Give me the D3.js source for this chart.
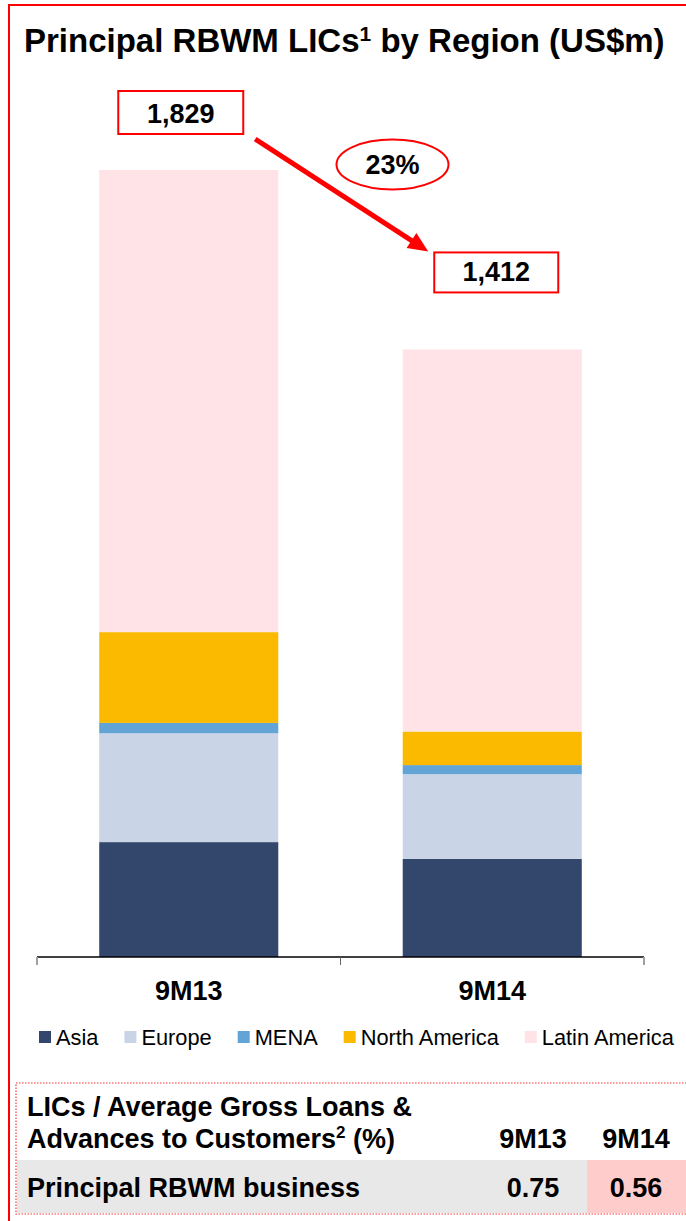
<!DOCTYPE html>
<html>
<head>
<meta charset="utf-8">
<script src="https://cdn.jsdelivr.net/npm/d3@7"></script>
<style>
  body { margin: 0; background: #fff; }
  svg { display: block; font-family: "Liberation Sans", Arial, sans-serif; }
</style>
</head>
<body>
<svg id="chart" width="686" height="1221"></svg>
<script>
// data (US$m)
const categories = ['9M13', '9M14'];
const regions = ['Asia', 'Europe', 'MENA', 'North America', 'Latin America'];
const asia = [267, 228];
const europe = [253, 197];
const mena = [24, 21];
const northAmerica = [211, 78];
const latinAmerica = [1074, 888];
const changeLabel = '23%';

// ratio table below the chart
const tableHeader = ['LICs / Average Gross Loans &', 'Advances to Customers'];
const tableRowLabel = 'Principal RBWM business';
const tableValues = [0.75, 0.56];

const colors = ['#33476C', '#C9D4E6', '#62A4D6', '#FBBA00', '#FFE3E6'];
const red = '#FF0000';
const fs = 27; // bold label size used all over the slide

const svg = d3.select('#chart');
const margin = { left: 37, right: 42, top: 170, bottom: 264 };
const width = 686 - margin.left - margin.right;
const baseY = 1221 - margin.bottom;

const series = [asia, europe, mena, northAmerica, latinAmerica];
const rows = categories.map((c, i) => {
  const r = { cat: c };
  regions.forEach((reg, k) => (r[reg] = series[k][i]));
  return r;
});
const totals = rows.map((r) => d3.sum(regions, (k) => r[k]));

const xScale = d3.scaleBand().domain(categories).range([margin.left, margin.left + width]).paddingInner(0.41).paddingOuter(0.205);
const yScale = d3.scaleLinear().domain([0, d3.max(totals)]).range([baseY, margin.top]);
const colorScale = d3.scaleOrdinal().domain(regions).range(colors);

// outer red frame (runs off the right/bottom edges)
svg.append('rect')
  .attr('x', 9).attr('y', 5).attr('width', 700).attr('height', 1300)
  .attr('fill', 'none').attr('stroke', red).attr('stroke-width', 2);

// title
const title = svg.append('text')
  .attr('x', 24).attr('y', 52)
  .attr('font-size', 33).attr('font-weight', 'bold').attr('fill', '#000');
title.append('tspan').text('Principal RBWM LICs');
title.append('tspan').attr('font-size', 21).attr('dy', -11).text('1');
title.append('tspan').attr('dy', 11).text(' by Region (US$m)');

// stacked bars
const stacked = d3.stack().keys(regions)(rows);
svg.append('g')
  .selectAll('g')
  .data(stacked)
  .join('g')
  .attr('fill', (d) => colorScale(d.key))
  .selectAll('rect')
  .data((d) => d)
  .join('rect')
  .attr('x', (d) => xScale(d.data.cat))
  .attr('y', (d) => yScale(d[1]))
  .attr('width', xScale.bandwidth())
  .attr('height', (d) => yScale(d[0]) - yScale(d[1]));

// category axis
const xAxis = d3.axisBottom(xScale).tickSize(0);
const xAxisG = svg.append('g').attr('transform', `translate(0,${baseY})`).call(xAxis);
xAxisG.select('.domain').remove();
xAxisG.selectAll('text')
  .attr('y', 43).attr('dy', 0)
  .attr('font-size', fs).attr('font-weight', 'bold')
  .attr('font-family', '"Liberation Sans", Arial, sans-serif').attr('fill', '#000');
svg.append('line')
  .attr('x1', margin.left).attr('x2', margin.left + width)
  .attr('y1', baseY).attr('y2', baseY)
  .attr('stroke', '#000').attr('stroke-width', 1.5);
const edges = [margin.left, margin.left + width / 2, margin.left + width];
svg.append('g').selectAll('line')
  .data(edges)
  .join('line')
  .attr('x1', (d) => d).attr('x2', (d) => d)
  .attr('y1', baseY).attr('y2', baseY + 8)
  .attr('stroke', (d, i) => (i === 1 ? '#666' : '#A0A0A0'))
  .attr('stroke-width', (d, i) => (i === 1 ? 1 : 2));

// total boxes
const fmt = d3.format(',');
const boxes = [
  { cx: xScale(categories[0]) + xScale.bandwidth() / 2 - 8, bottom: yScale(totals[0]) - 36, w: 125, h: 43, text: fmt(totals[0]) },
  { cx: xScale(categories[1]) + xScale.bandwidth() / 2 + 4, bottom: yScale(totals[1]) - 57, w: 124, h: 40, text: fmt(totals[1]) },
];
const boxG = svg.append('g').selectAll('g').data(boxes).join('g');
boxG.append('rect')
  .attr('x', (d) => d.cx - d.w / 2).attr('y', (d) => d.bottom - d.h)
  .attr('width', (d) => d.w).attr('height', (d) => d.h)
  .attr('fill', '#fff').attr('stroke', red).attr('stroke-width', 2);
boxG.append('text')
  .attr('x', (d) => d.cx).attr('y', (d) => d.bottom - 11)
  .attr('text-anchor', 'middle').attr('font-size', fs).attr('font-weight', 'bold')
  .text((d) => d.text);

// arrow between the two boxes
const b1 = boxes[0], b2 = boxes[1];
const start = [b1.cx + b1.w / 2 + 12, b1.bottom + 5];
const tip = [b2.cx - b2.w / 2 - 6, b2.bottom - b2.h - 1];
const ang = Math.atan2(tip[1] - start[1], tip[0] - start[0]);
const headLen = 20, headHalf = 9;
const baseP = [tip[0] - headLen * Math.cos(ang), tip[1] - headLen * Math.sin(ang)];
svg.append('line')
  .attr('x1', start[0]).attr('y1', start[1])
  .attr('x2', baseP[0] + 2 * Math.cos(ang)).attr('y2', baseP[1] + 2 * Math.sin(ang))
  .attr('stroke', red).attr('stroke-width', 5);
svg.append('path')
  .attr('d', d3.line()([
    tip,
    [baseP[0] + headHalf * Math.sin(ang), baseP[1] - headHalf * Math.cos(ang)],
    [baseP[0] - headHalf * Math.sin(ang), baseP[1] + headHalf * Math.cos(ang)],
  ]) + 'Z')
  .attr('fill', red);

// change ellipse
const ecx = 392.5, ecy = 164.5;
svg.append('ellipse')
  .attr('cx', ecx).attr('cy', ecy).attr('rx', 56).attr('ry', 25)
  .attr('fill', '#fff').attr('stroke', red).attr('stroke-width', 2);
svg.append('text')
  .attr('x', ecx).attr('y', ecy + 9)
  .attr('text-anchor', 'middle').attr('font-size', fs).attr('font-weight', 'bold')
  .text(changeLabel);

// legend
const legend = svg.append('g').attr('transform', 'translate(39,1037)');
let lx = 0;
regions.forEach((r, i) => {
  const g = legend.append('g').attr('transform', `translate(${lx},0)`);
  g.append('rect').attr('x', 0).attr('y', -6).attr('width', 12).attr('height', 12).attr('fill', colors[i]);
  const t = g.append('text').attr('x', 17).attr('y', 8).attr('font-size', 21.8).attr('fill', '#000').text(r);
  lx += 17 + t.node().getComputedTextLength() + 26;
});

// table
const tbl = svg.append('g');
tbl.append('rect')
  .attr('x', 16).attr('y', 1083).attr('width', 700).attr('height', 131)
  .attr('fill', 'none').attr('stroke', '#F33').attr('stroke-width', 1.2).attr('stroke-dasharray', '1.5,1.5');
tbl.append('rect').attr('x', 17).attr('y', 1160).attr('width', 570).attr('height', 53).attr('fill', '#E8E8E8');
tbl.append('rect').attr('x', 587).attr('y', 1160).attr('width', 100).attr('height', 53).attr('fill', '#FFCCCC');
tbl.append('text').attr('x', 27).attr('y', 1116)
  .attr('font-size', fs).attr('font-weight', 'bold').text(tableHeader[0]);
const h2 = tbl.append('text').attr('x', 27).attr('y', 1148)
  .attr('font-size', fs).attr('font-weight', 'bold');
h2.append('tspan').text(tableHeader[1]);
h2.append('tspan').attr('font-size', 17).attr('dy', -10).text('2');
h2.append('tspan').attr('dy', 10).text(' (%)');
const colX = [533, 636];
tbl.selectAll('.col-head').data(categories).join('text')
  .attr('class', 'col-head')
  .attr('x', (d, i) => colX[i]).attr('y', 1148)
  .attr('text-anchor', 'middle').attr('font-size', fs).attr('font-weight', 'bold')
  .text((d) => d);
tbl.append('text').attr('x', 27).attr('y', 1197)
  .attr('font-size', fs).attr('font-weight', 'bold').text(tableRowLabel);
tbl.selectAll('.cell').data(tableValues).join('text')
  .attr('class', 'cell')
  .attr('x', (d, i) => colX[i]).attr('y', 1197)
  .attr('text-anchor', 'middle').attr('font-size', fs).attr('font-weight', 'bold')
  .text((d) => d3.format('.2f')(d));
</script>
</body>
</html>
